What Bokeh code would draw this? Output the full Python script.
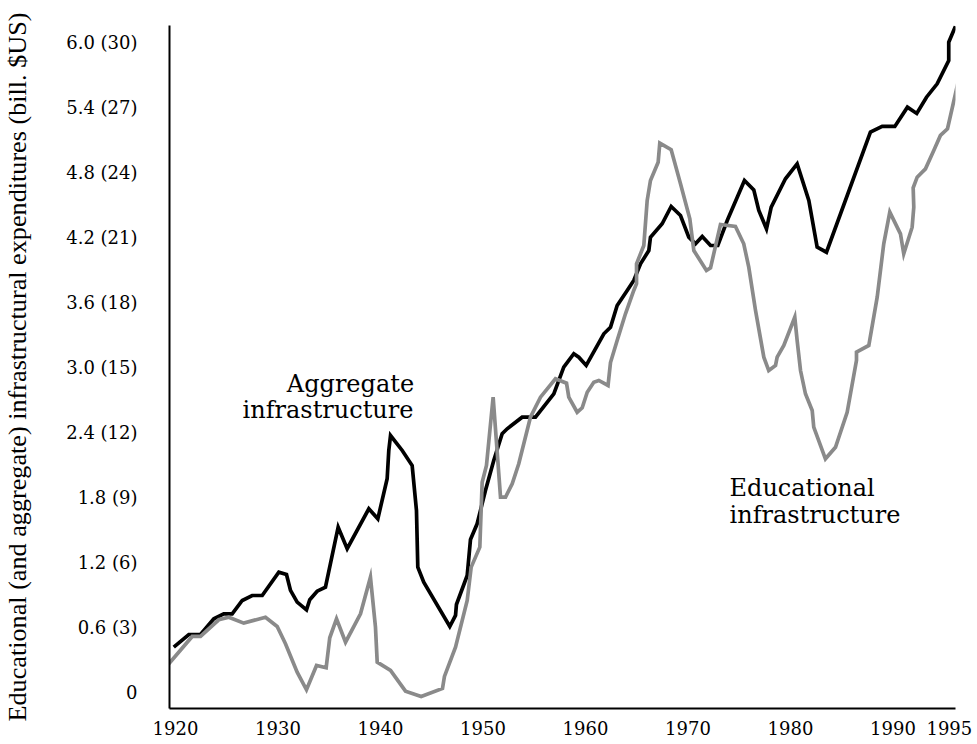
from bokeh.plotting import figure
from bokeh.models import Range1d, FixedTicker
from bokeh.core.properties import value
from bokeh.embed import file_html
from bokeh.resources import INLINE

# Aggregate infrastructure
agg_year = [1919.83, 1921.30, 1922.44, 1923.74, 1924.71, 1925.53, 1926.51, 1927.48, 1928.46,
            1930.08, 1930.83, 1931.22, 1931.87, 1932.78, 1933.10, 1933.82, 1934.63, 1935.87,
            1936.75, 1938.86, 1939.74, 1940.65, 1940.81, 1940.98, 1942.12, 1943.09, 1943.51,
            1943.64, 1944.22, 1946.76, 1947.32, 1947.41, 1948.46, 1948.78, 1949.43, 1950.24,
            1951.05, 1951.87, 1952.36, 1953.82, 1955.12, 1956.91, 1957.88, 1958.86, 1959.35,
            1960.07, 1961.79, 1962.44, 1963.09, 1964.07, 1964.71, 1965.37, 1966.18, 1966.34,
            1967.48, 1968.36, 1969.27, 1970.08, 1970.73, 1971.39, 1972.20, 1972.91, 1973.83,
            1975.51, 1976.42, 1976.91, 1977.66, 1978.12, 1979.51, 1980.65, 1981.79, 1982.60,
            1983.51, 1987.80, 1988.95, 1990.18, 1991.41, 1992.32, 1993.27, 1994.31, 1995.44,
            1995.44, 1996.10]
agg_value = [0.418, 0.535, 0.535, 0.680, 0.726, 0.726, 0.849, 0.895, 0.895,
             1.110, 1.089, 0.942, 0.834, 0.763, 0.856, 0.935, 0.972, 1.526,
             1.327, 1.696, 1.603, 1.973, 2.234, 2.372, 2.234, 2.095, 1.680,
             1.157, 1.018, 0.609, 0.711, 0.812, 1.080, 1.412, 1.557, 1.865,
             2.142, 2.388, 2.434, 2.541, 2.541, 2.757, 3.003, 3.127, 3.095,
             3.019, 3.311, 3.372, 3.572, 3.711, 3.803, 3.957, 4.080, 4.203,
             4.327, 4.486, 4.403, 4.203, 4.142, 4.209, 4.126, 4.126, 4.357,
             4.726, 4.640, 4.449, 4.280, 4.480, 4.742, 4.880, 4.542, 4.111,
             4.064, 5.172, 5.225, 5.225, 5.403, 5.345, 5.495, 5.619, 5.834,
             6.003, 6.150]

# Educational infrastructure
edu_year = [1919.35, 1921.63, 1922.44, 1924.22, 1925.20, 1926.66, 1928.78, 1929.92, 1930.73,
            1931.87, 1932.78, 1933.76, 1934.70, 1935.05, 1935.71, 1936.59, 1938.05, 1939.02,
            1939.51, 1939.68, 1940.98, 1942.44, 1943.97, 1946.05, 1946.24, 1947.32, 1948.46,
            1948.85, 1949.69, 1949.92, 1950.34, 1950.99, 1951.71, 1952.20, 1952.85, 1953.49,
            1954.63, 1955.61, 1957.07, 1958.15, 1958.37, 1959.19, 1959.68, 1960.17, 1960.81,
            1961.30, 1962.20, 1962.44, 1963.09, 1963.90, 1964.71, 1964.98, 1964.98, 1965.69,
            1966.02, 1966.34, 1967.09, 1967.25, 1968.36, 1969.27, 1970.18, 1970.57, 1971.80,
            1972.20, 1973.17, 1974.63, 1975.44, 1975.93, 1976.59, 1977.40, 1977.88, 1978.54,
            1978.70, 1979.35, 1980.42, 1980.65, 1980.98, 1981.46, 1982.12, 1982.27, 1983.41,
            1984.39, 1985.53, 1986.44, 1986.44, 1987.64, 1988.46, 1989.10, 1989.69, 1990.73,
            1991.05, 1991.87, 1992.03, 1991.97, 1992.36, 1993.17, 1993.98, 1994.63, 1995.32,
            1996.32]
edu_value = [0.265, 0.517, 0.517, 0.671, 0.695, 0.640, 0.695, 0.609, 0.450,
             0.187, 0.025, 0.249, 0.228, 0.505, 0.680, 0.464, 0.726, 1.064,
             0.603, 0.280, 0.203, 0.012, -0.037, 0.037, 0.148, 0.418, 0.849,
             1.157, 1.341, 1.941, 2.095, 2.726, 1.803, 1.803, 1.927, 2.111,
             2.541, 2.726, 2.896, 2.855, 2.726, 2.587, 2.628, 2.772, 2.864,
             2.880, 2.834, 3.046, 3.249, 3.496, 3.711, 3.773, 3.957, 4.126,
             4.542, 4.726, 4.895, 5.071, 5.010, 4.696, 4.373, 4.080, 3.895,
             3.920, 4.320, 4.302, 4.142, 3.926, 3.526, 3.095, 2.972, 3.019,
             3.095, 3.203, 3.464, 3.249, 2.972, 2.757, 2.603, 2.449, 2.157,
             2.264, 2.587, 3.065, 3.141, 3.203, 3.649, 4.142, 4.434, 4.234,
             4.050, 4.295, 4.480, 4.659, 4.757, 4.834, 5.003, 5.142, 5.204,
             5.619]

x_ticks = [1920, 1930, 1940, 1950, 1960, 1970, 1980, 1990, 1995.5]
x_tick_labels = ["1920", "1930", "1940", "1950", "1960", "1970", "1980", "1990", "1995"]
y_ticks = [0, 0.6, 1.2, 1.8, 2.4, 3.0, 3.6, 4.2, 4.8, 5.4, 6.0]
y_tick_labels = ["0", "0.6 (3)", "1.2 (6)", "1.8 (9)", "2.4 (12)", "3.0 (15)", "3.6 (18)",
                 "4.2 (21)", "4.8 (24)", "5.4 (27)", "6.0 (30)"]
y_title = "Educational (and aggregate) infrastructural expenditures (bill. $US)"

label_text = ["Aggregate", "infrastructure", "Educational", "infrastructure"]
label_x = [1937.07, 1934.88, 1974.05, 1974.05]
label_y = [2.852, 2.603, 1.892, 1.634]
label_align = ["center", "center", "left", "left"]

SERIF = "DejaVu Serif"

p = figure(width=977, height=744, output_backend="svg", toolbar_location=None,
           x_range=Range1d(1919.415, 1996.1), y_range=Range1d(-0.148, 6.157),
           min_border_left=169, min_border_right=22, min_border_top=25, min_border_bottom=36)
p.grid.visible = False
p.outline_line_color = None
p.background_fill_color = "white"
p.border_fill_color = "white"

p.line(agg_year, agg_value, line_color="black", line_width=3.7, line_join="miter")
p.line(edu_year, edu_value, line_color="#8a8a8a", line_width=3.7, line_join="miter")

p.text(x=label_x, y=label_y, text=label_text, text_align=label_align,
       text_baseline="middle", text_font=value(SERIF), text_font_size="24px",
       text_color="black")

for ax in (p.xaxis[0], p.yaxis[0]):
    ax.axis_line_color = "black"
    ax.axis_line_width = 2
    ax.major_tick_line_color = None
    ax.minor_tick_line_color = None
    ax.major_label_text_font = SERIF
    ax.major_label_text_font_size = "18px"
    ax.major_label_text_color = "black"

p.xaxis.ticker = FixedTicker(ticks=x_ticks)
p.xaxis.major_label_overrides = dict(zip(x_ticks, x_tick_labels))
p.xaxis.major_label_standoff = 6

p.yaxis.ticker = FixedTicker(ticks=y_ticks)
p.yaxis.major_label_overrides = dict(zip(y_ticks, y_tick_labels))
p.yaxis.major_label_text_align = "left"
p.yaxis.major_label_standoff = 26
p.yaxis.axis_label = y_title
p.yaxis.axis_label_text_font = "Liberation Serif"
p.yaxis.axis_label_text_font_style = "normal"
p.yaxis.axis_label_text_font_size = "26.2px"
p.yaxis.axis_label_text_color = "black"
p.yaxis.axis_label_standoff = 31

open("out.html", "w").write(file_html(p, INLINE))
